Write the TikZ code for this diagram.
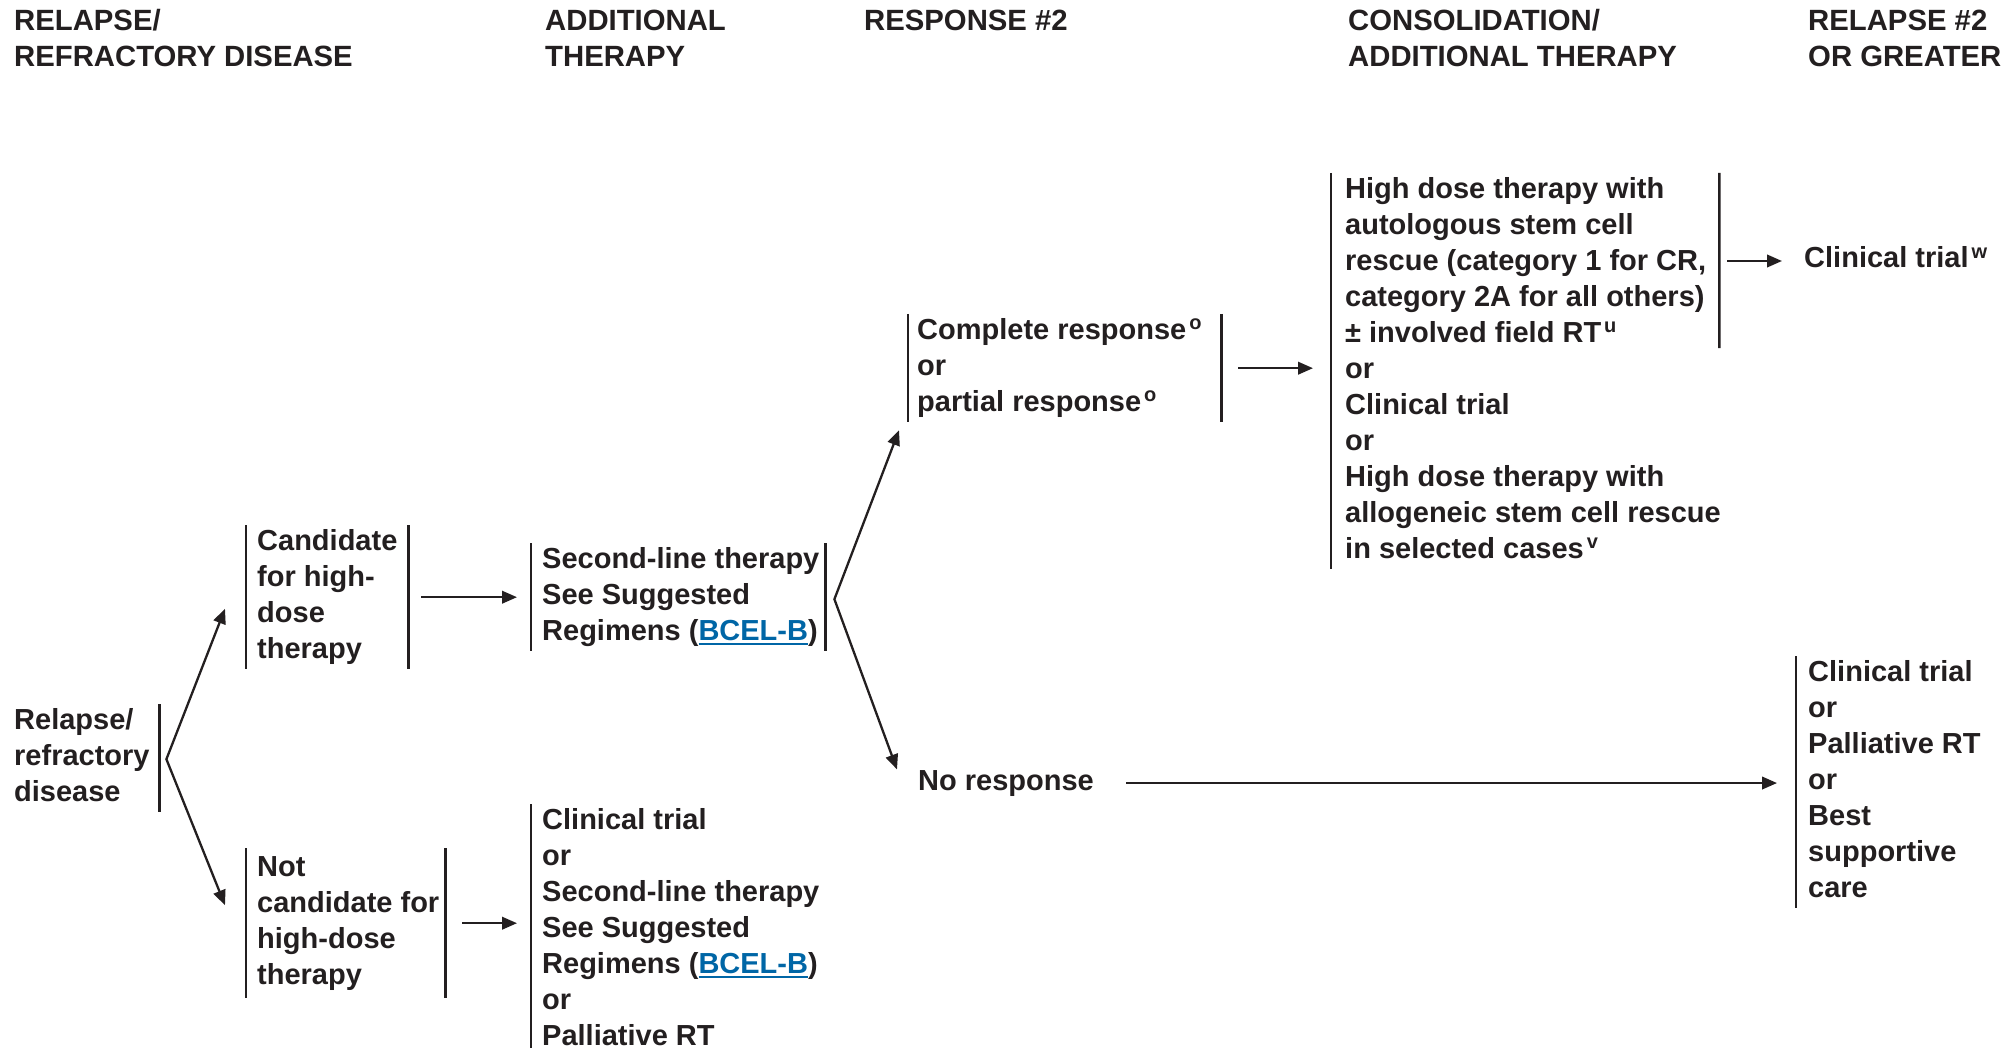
\documentclass[tikz,border=0pt]{standalone}
\usepackage{fontspec}
\setmainfont{Liberation Sans}
\usetikzlibrary{arrows.meta,calc}

\definecolor{ink}{HTML}{231F20}
\definecolor{linkblue}{RGB}{0,102,166}

\newcommand\bodyfont{\fontsize{29}{36}\selectfont\bfseries}
\newcommand\headfont{\fontsize{29.3}{36}\selectfont\bfseries}
% underlined cross-reference link
\newcommand\ulink[1]{{\color{linkblue}\setbox0\hbox{#1}\rlap{\rule[-4.5pt]{\wd0}{2.3pt}}\box0}}
% footnote marker
\newcommand\supmark[1]{\kern3pt\raisebox{9.5pt}{\fontsize{20}{20}\selectfont #1}}
% block of left-aligned lines: total width, left padding, lines
\newcommand\blocklines[3]{\makebox[#1pt][l]{\hspace*{#2pt}\begin{tabular}{@{}l@{}}#3\end{tabular}}}
\newcommand\headlines[1]{\begin{tabular}[t]{@{}l@{}}#1\end{tabular}}

\begin{document}
\begin{tikzpicture}[x=1pt,y=-1pt,
  head/.style={anchor=base west, inner sep=0pt, font=\headfont, text=ink},
  blk/.style={anchor=north west, inner sep=0pt, font=\bodyfont, text=ink, minimum height=#1},
  plain/.style={anchor=base west, inner sep=0pt, font=\bodyfont, text=ink},
  bar/.style={draw=ink, line width=2.4pt},
  arr/.style={draw=ink, line width=2.3pt, -{Triangle[length=15pt,width=12.5pt]}},
  arrtwo/.style={draw=ink, line width=2.3pt, {Triangle[length=15pt,width=12.5pt]}-{Triangle[length=15pt,width=12.5pt]}},
]
\useasboundingbox (0,0) rectangle (2016,1048);

% column headings
\node[head] (h1) at (14,31)   {\headlines{RELAPSE/\\REFRACTORY DISEASE}};
\node[head] (h2) at (545,31)  {\headlines{ADDITIONAL\\THERAPY}};
\node[head] (h3) at (864,31)  {RESPONSE \#2};
\node[head] (h4) at (1348,31) {\headlines{CONSOLIDATION/\\ADDITIONAL THERAPY}};
\node[head] (h5) at (1808,31) {\headlines{RELAPSE \#2\\OR GREATER}};

% decision blocks
\node[blk=107pt] (rel) at (14,704)
  {\blocklines{145}{0}{Relapse/\\refractory\\disease}};
\node[blk=143pt] (cand) at (246,525)
  {\blocklines{162}{11}{Candidate\\for high-\\dose\\therapy}};
\node[blk=106pt] (sec) at (531,543)
  {\blocklines{294}{11}{Second-line therapy\\See Suggested\\Regimens (\ulink{BCEL-B})}};
\node[blk=150pt] (notc) at (246,848)
  {\blocklines{199}{11}{Not\\candidate for\\high-dose\\therapy}};
\node[blk=242pt] (bot) at (531,804)
  {\blocklines{300}{11}{Clinical trial\\or\\Second-line therapy\\See Suggested\\Regimens (\ulink{BCEL-B})\\or\\Palliative RT}};
\node[blk=104pt] (resp) at (908,314)
  {\blocklines{313}{9}{Complete response\supmark{o}\\or\\partial response\supmark{o}}};
\node[blk=386pt] (cons) at (1331,173)
  {\blocklines{388}{14}{High dose therapy with\\autologous stem cell\\rescue (category 1 for CR,\\category 2A for all others)\\± involved field RT\supmark{u}\\or\\Clinical trial\\or\\High dose therapy with\\allogeneic stem cell rescue\\in selected cases\supmark{v}}};
\node[blk=248pt] (fin) at (1796,656)
  {\blocklines{210}{12}{Clinical trial\\or\\Palliative RT\\or\\Best\\supportive\\care}};
\node[plain] (ctw) at (1804,268) {Clinical trial\supmark{w}};
\node[plain] (nr) at (918,790) {No response};

% brackets
\draw[bar] (rel.north east) -- (rel.south east);
\foreach \n in {cand,sec,notc,resp}{
  \draw[bar] (\n.north west) -- (\n.south west);
  \draw[bar] (\n.north east) -- (\n.south east);
}
\draw[bar] (bot.north west) -- (bot.south west);
\draw[bar] (cons.north west) -- (cons.south west);
\draw[bar] (cons.north east) -- ($(cons.north east)!0.442!(cons.south east)$);
\draw[bar] (fin.north west) -- (fin.south west);

% branching connectors
\coordinate (rfork) at ([xshift=7pt,yshift=-1pt]rel.east);
\draw[arrtwo] ([xshift=-21pt,yshift=-11.5pt]cand.west) -- (rfork) -- ([xshift=-21pt,yshift=18pt]notc.west);
\coordinate (sfork) at ([xshift=9pt,yshift=-2pt]sec.east);
\draw[arrtwo] ([xshift=-9pt,yshift=-62pt]resp.west) -- (sfork) -- ([xshift=-21pt,yshift=13.6pt]nr.west);

% straight connectors
\draw[arr, shorten <=13pt, shorten >=14pt] (cand.east) -- (cand.east -| sec.west);
\draw[arr, shorten <=17pt, shorten >=14pt] (notc.east) -- (notc.east -| bot.west);
\draw[arr, shorten <=17pt, shorten >=18pt] (resp.east) -- (resp.east -| cons.west);
\coordinate (cfrom) at ($(cons.north east)!0.222!(cons.south east)$);
\draw[arr, shorten <=8pt, shorten >=22pt] (cfrom) -- (cfrom -| ctw.west);
\draw[arr, shorten <=32pt, shorten >=19pt] (nr.east) -- (nr.east -| fin.west);
\end{tikzpicture}
\end{document}
